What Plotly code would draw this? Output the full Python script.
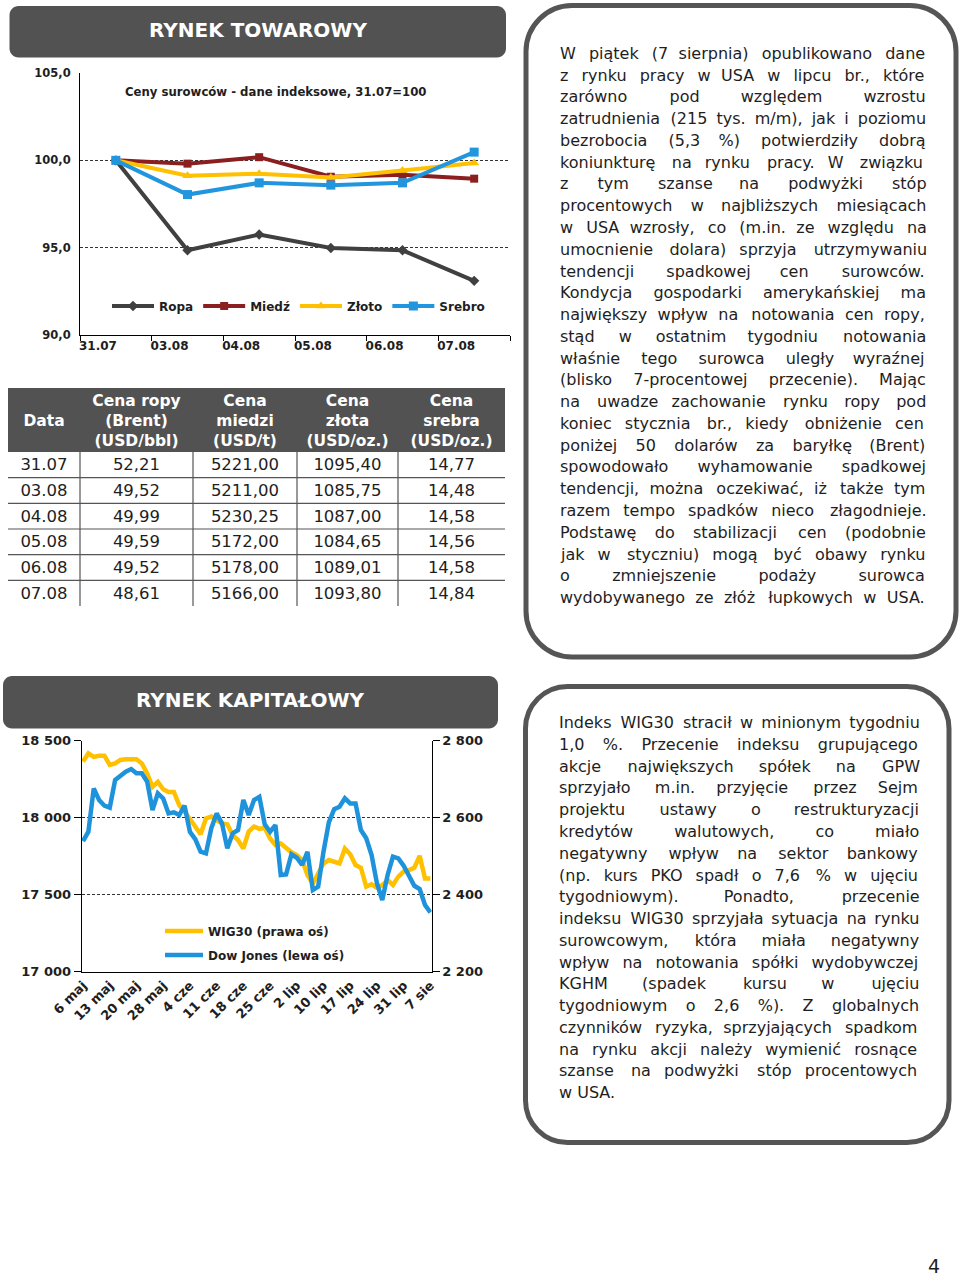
import plotly.graph_objects as go

W, H = 960, 1277
def px(x): return x / W
def py(y): return 1 - y / H

# ---------------- data: commodity chart (index, 31.07 = 100) ----------------
kat_dni = ["31.07", "03.08", "04.08", "05.08", "06.08", "07.08"]
ropa   = [100.0, 94.85, 95.75, 94.98, 94.85, 93.10]
miedz  = [100.0, 99.81, 100.18, 99.06, 99.18, 98.95]
zloto  = [100.0, 99.12, 99.23, 99.02, 99.42, 99.85]
srebro = [100.0, 98.04, 98.71, 98.58, 98.71, 100.47]

# ---------------- data: table ----------------
tab_naglowki = ["Data", "Cena ropy<br>(Brent)<br>(USD/bbl)", "Cena<br>miedzi<br>(USD/t)",
                "Cena<br>złota<br>(USD/oz.)", "Cena<br>srebra<br>(USD/oz.)"]
tab_daty    = ["31.07", "03.08", "04.08", "05.08", "06.08", "07.08"]
cena_ropy   = ["52,21", "49,52", "49,99", "49,59", "49,52", "48,61"]
cena_miedzi = ["5221,00", "5211,00", "5230,25", "5172,00", "5178,00", "5166,00"]
cena_zlota  = ["1095,40", "1085,75", "1087,00", "1084,65", "1089,01", "1093,80"]
cena_srebra = ["14,77", "14,48", "14,58", "14,56", "14,58", "14,84"]

# ---------------- data: equity chart ----------------
daty = ["06.05","07.05","08.05","11.05","12.05","13.05","14.05","15.05","18.05","19.05",
        "20.05","21.05","22.05","26.05","27.05","28.05","29.05","01.06","02.06","03.06",
        "04.06","05.06","08.06","09.06","10.06","11.06","12.06","15.06","16.06","17.06",
        "18.06","19.06","22.06","23.06","24.06","25.06","26.06","29.06","30.06","01.07",
        "02.07","06.07","07.07","08.07","09.07","10.07","13.07","14.07","15.07","16.07",
        "17.07","20.07","21.07","22.07","23.07","24.07","27.07","28.07","29.07","30.07",
        "31.07","03.08","04.08","05.08","06.08","07.08"]
dow_jones = [17848,17909,18190,18115,18078,18065,18245,18273,18299,18316,
             18288,18288,18234,18050,18158,18125,18028,18035,18017,18078,
             17909,17861,17779,17768,17931,18028,17963,17801,17898,17920,
             18115,18017,18115,18136,17957,17909,17952,17628,17632,17762,
             17740,17693,17779,17530,17552,17779,17970,18056,18071,18126,
             18093,18093,17920,17866,17758,17574,17465,17628,17747,17736,
             17688,17623,17558,17537,17433,17385]
wig30 = [2746,2767,2758,2761,2761,2737,2741,2750,2752,2752,
         2752,2741,2715,2680,2693,2674,2667,2667,2633,2616,
         2594,2577,2557,2598,2603,2594,2585,2583,2555,2542,
         2520,2564,2577,2571,2574,2546,2529,2533,2520,2510,
         2503,2490,2451,2429,2455,2481,2490,2484,2481,2520,
         2505,2477,2470,2421,2427,2418,2425,2438,2425,2447,
         2460,2464,2470,2501,2442,2442]
tick_daty = ["06.05","13.05","20.05","28.05","04.06","11.06","18.06","25.06",
             "02.07","10.07","17.07","24.07","31.07","07.08"]
tick_etykiety = ["6 maj","13 maj","20 maj","28 maj","4 cze","11 cze","18 cze","25 cze",
                 "2 lip","10 lip","17 lip","24 lip","31 lip","7 sie"]

# ---------------- texts ----------------
tekst1 = [
    "W piątek (7 sierpnia) opublikowano dane",
    "z rynku pracy w USA w lipcu br., które",
    "zarówno pod względem wzrostu",
    "zatrudnienia (215 tys. m/m), jak i poziomu",
    "bezrobocia (5,3 %) potwierdziły dobrą",
    "koniunkturę na rynku pracy. W związku",
    "z tym szanse na podwyżki stóp",
    "procentowych w najbliższych miesiącach",
    "w USA wzrosły, co (m.in. ze względu na",
    "umocnienie dolara) sprzyja utrzymywaniu",
    "tendencji spadkowej cen surowców.",
    "Kondycja gospodarki amerykańskiej ma",
    "największy wpływ na notowania cen ropy,",
    "stąd w ostatnim tygodniu notowania",
    "właśnie tego surowca uległy wyraźnej",
    "(blisko 7-procentowej przecenie). Mając",
    "na uwadze zachowanie rynku ropy pod",
    "koniec stycznia br., kiedy obniżenie cen",
    "poniżej 50 dolarów za baryłkę (Brent)",
    "spowodowało wyhamowanie spadkowej",
    "tendencji, można oczekiwać, iż także tym",
    "razem tempo spadków nieco złagodnieje.",
    "Podstawę do stabilizacji cen (podobnie",
    "jak w styczniu) mogą być obawy rynku",
    "o zmniejszenie podaży surowca",
    "wydobywanego ze złóż łupkowych w USA.",
]
tekst2 = [
    "Indeks WIG30 stracił w minionym tygodniu",
    "1,0 %. Przecenie indeksu grupującego",
    "akcje największych spółek na GPW",
    "sprzyjało m.in. przyjęcie przez Sejm",
    "projektu ustawy o restrukturyzacji",
    "kredytów walutowych, co miało",
    "negatywny wpływ na sektor bankowy",
    "(np. kurs PKO spadł o 7,6 % w ujęciu",
    "tygodniowym). Ponadto, przecenie",
    "indeksu WIG30 sprzyjała sytuacja na rynku",
    "surowcowym, która miała negatywny",
    "wpływ na notowania spółki wydobywczej",
    "KGHM (spadek kursu w ujęciu",
    "tygodniowym o 2,6 %). Z globalnych",
    "czynników ryzyka, sprzyjających spadkom",
    "na rynku akcji należy wymienić rosnące",
    "szanse na podwyżki stóp procentowych",
    "w USA.",
]

# ---------------- helpers ----------------
FONT = "DejaVu Sans"
DV = {' ':651,'!':821,'(':799,')':799,',':651,'-':739,'.':651,'/':690,'%':1946,':':690,
      'A':1401,'B':1405,'C':1430,'D':1577,'E':1294,'F':1178,'G':1587,'H':1540,'I':604,'J':604,
      'K':1343,'L':1141,'M':1767,'N':1532,'O':1612,'P':1235,'R':1423,'S':1300,'T':1251,'U':1499,
      'W':2025,'Z':1403,'a':1255,'b':1300,'c':1126,'d':1300,'e':1260,'f':721,'g':1300,'h':1298,
      'i':569,'j':569,'k':1186,'l':569,'m':1995,'n':1298,'o':1253,'p':1300,'q':1300,'r':842,
      's':1067,'t':803,'u':1298,'v':1212,'w':1675,'x':1212,'y':1212,'z':1075,'ą':1255,'ć':1126,
      'ę':1260,'ł':600,'ń':1298,'ó':1253,'ś':1067,'ź':1075,'ż':1075}
for d in "0123456789":
    DV[d] = 1303

def text_em(s):
    return sum(DV.get(ch, 1200) for ch in s) / 2048.0

SPACES = [(1.0, '\u2003'), (0.5, '\u2002'), (1/3, '\u2004'), (0.25, '\u2005'),
          (0.2, '\u2009'), (1/6, '\u2006')]

def justify(line, width_px, size):
    words = line.split(' ')
    if len(words) < 2:
        return line
    target = width_px / size
    natural = sum(text_em(w) for w in words)
    gap = max((target - natural) / (len(words) - 1), 651 / 2048)
    out, cum_t, cum_a = words[0], 0.0, 0.0
    for w in words[1:]:
        cum_t += gap
        need = cum_t - cum_a
        s, got = '\u00a0', 651 / 2048
        while need - got > 0.085:
            rem = need - got
            for val, ch in SPACES:
                if val <= rem + 0.085:
                    s += ch
                    got += val
                    break
            else:
                break
        cum_a += got
        out += s + w
    return out

def rrect(x0, y0, x1, y1, r):
    k = 0.5523 * r
    def P(x, y): return f"{px(x):.5f},{py(y):.5f}"
    d = (f"M {P(x0+r, y0)} L {P(x1-r, y0)} C {P(x1-r+k, y0)} {P(x1, y0+r-k)} {P(x1, y0+r)} "
         f"L {P(x1, y1-r)} C {P(x1, y1-r+k)} {P(x1-r+k, y1)} {P(x1-r, y1)} "
         f"L {P(x0+r, y1)} C {P(x0+r-k, y1)} {P(x0, y1-r+k)} {P(x0, y1-r)} "
         f"L {P(x0, y0+r)} C {P(x0, y0+r-k)} {P(x0+r-k, y0)} {P(x0+r, y0)} Z")
    return d

DARK = "#525252"
TXT = "#1e1e1e"

fig = go.Figure()

# ---------------- top chart traces ----------------
x_top = [i + 0.5 for i in range(len(kat_dni))]
series = [("Ropa", ropa, "#404040", "diamond", 8),
          ("Miedź", miedz, "#8B1F1F", "square", 8),
          ("Złoto", zloto, "#FFC000", "triangle-up", 9),
          ("Srebro", srebro, "#2196DE", "square", 9)]
for name, vals, col, sym, ms in series:
    fig.add_trace(go.Scatter(x=x_top, y=vals, name=name, mode="lines+markers",
                             line=dict(color=col, width=4),
                             marker=dict(symbol=sym, size=ms, color=col),
                             xaxis="x", yaxis="y", legend="legend", hoverinfo="skip"))

# ---------------- bottom chart traces ----------------
fig.add_trace(go.Scatter(x=daty, y=wig30, name="WIG30 (prawa oś)", mode="lines",
                         line=dict(color="#FFC000", width=4.5),
                         xaxis="x2", yaxis="y2", legend="legend2", legendgroup="a"))
fig.add_trace(go.Scatter(x=daty, y=dow_jones, name="Dow Jones (lewa oś)", mode="lines",
                         line=dict(color="#1E93DC", width=4.5),
                         xaxis="x2", yaxis="y3", legend="legend2", legendgroup="b"))

# ---------------- table (text traces on a hidden subplot) ----------------
col_w = [72, 113, 104, 101, 107]
edges = [0]
for w in col_w:
    edges.append(edges[-1] + w)
centers = [(edges[i] + edges[i+1]) / 2 for i in range(len(col_w))]
HEAD_H = 64
ROW_H = (218 - HEAD_H) / len(tab_daty)
kolumny = [tab_daty, cena_ropy, cena_miedzi, cena_zlota, cena_srebra]
tx, ty, tt = [], [], []
for c, col in enumerate(kolumny):
    for r, v in enumerate(col):
        tx.append(centers[c]); ty.append(HEAD_H + ROW_H * (r + 0.5) + 1.5); tt.append(v)
fig.add_trace(go.Scatter(x=tx, y=ty, text=tt, mode="text", textposition="middle center",
                         textfont=dict(family=FONT, size=16.5, color=TXT),
                         xaxis="x3", yaxis="y4", showlegend=False, hoverinfo="skip"))
fig.add_trace(go.Scatter(x=centers, y=[HEAD_H / 2 + 2] * 5, text=tab_naglowki, mode="text",
                         textposition="middle center",
                         textfont=dict(family=FONT, size=15.5, color="white", weight="bold"),
                         xaxis="x3", yaxis="y4", showlegend=False, hoverinfo="skip"))

shapes = []
shapes.append(dict(type="rect", xref="x3", yref="y4", x0=0, x1=edges[-1], y0=0, y1=HEAD_H,
                   fillcolor=DARK, line=dict(width=0), layer="below"))
for k in range(1, len(tab_daty)):
    yy = HEAD_H + ROW_H * k
    shapes.append(dict(type="line", xref="x3", yref="y4", x0=0, x1=edges[-1], y0=yy, y1=yy,
                       line=dict(color="#555555", width=1.2)))
for e in edges[1:-1]:
    shapes.append(dict(type="line", xref="x3", yref="y4", x0=e, x1=e, y0=HEAD_H, y1=218,
                       line=dict(color="#555555", width=1.2)))

# section headers
shapes.append(dict(type="path", xref="paper", yref="paper", path=rrect(9.5, 6, 506, 57.5, 9),
                   fillcolor=DARK, line=dict(width=0)))
shapes.append(dict(type="path", xref="paper", yref="paper", path=rrect(3, 676, 498, 728.5, 9),
                   fillcolor=DARK, line=dict(width=0)))
# text boxes
shapes.append(dict(type="path", xref="paper", yref="paper", path=rrect(526, 5.5, 956, 657, 46),
                   fillcolor="white", line=dict(color="#555555", width=5)))
shapes.append(dict(type="path", xref="paper", yref="paper", path=rrect(525.5, 686.5, 949, 1142.5, 42),
                   fillcolor="white", line=dict(color="#555555", width=5)))

annotations = []
def ann(text, x, y, font, xanchor="center"):
    annotations.append(dict(text=text, x=px(x), y=py(y), xref="paper", yref="paper",
                            xanchor=xanchor, yanchor="middle", showarrow=False, font=font))

ann("RYNEK TOWAROWY", 258, 30, dict(family=FONT, size=20, color="white", weight="bold"))
ann("RYNEK KAPITAŁOWY", 250, 700, dict(family=FONT, size=20, color="white", weight="bold"))
ann("Ceny surowców - dane indeksowe, 31.07=100", 275, 92,
    dict(family=FONT, size=11.7, color=TXT, weight="bold"))
ann("4", 934, 1266, dict(family=FONT, size=19, color=TXT))

SIZE = 16
body = dict(family=FONT, size=SIZE, color=TXT)
for i, line in enumerate(tekst1):
    ann(justify(line, 366, SIZE), 558, 53.3 + i * 21.77, body, xanchor="left")
for i, line in enumerate(tekst2):
    t = line if i == len(tekst2) - 1 else justify(line, 360, SIZE)
    ann(t, 557, 722.7 + i * 21.76, body, xanchor="left")

GRID = dict(showgrid=True, gridcolor="#333333", gridwidth=1, griddash="3px,2px")
bold12 = dict(family=FONT, size=12, color=TXT, weight="bold")

fig.update_layout(
    template="none", width=W, height=H, margin=dict(l=0, r=0, t=0, b=0),
    paper_bgcolor="white", plot_bgcolor="rgba(0,0,0,0)", separators=", ",
    font=dict(family=FONT, color=TXT), hovermode=False,
    xaxis=dict(domain=[px(80), px(510)], range=[0, 6], anchor="y",
               tickmode="array", tickvals=[i + 0.25 for i in range(len(kat_dni))], ticktext=kat_dni,
               ticks="", showline=True, linecolor="black", linewidth=1, showgrid=False, zeroline=False,
               tickfont=dict(family=FONT, size=12, color=TXT, weight="bold"),
               minor=dict(ticks="outside", tick0=0, dtick=1, ticklen=5, tickcolor="black", showgrid=False)),
    yaxis=dict(domain=[py(335), py(73)], range=[90, 105], dtick=5, tickformat=".1f", anchor="x",
               showline=True, linecolor="black", linewidth=1, ticks="", zeroline=False,
               ticklabelstandoff=6, tickfont=dict(family=FONT, size=11.5, color=TXT, weight="bold"), **GRID),
    xaxis2=dict(domain=[px(81.7), px(431.7)], type="category", categoryorder="array", categoryarray=daty,
                range=[-0.25, len(daty) - 0.75], anchor="y2", tickmode="array", tickvals=tick_daty,
                ticktext=tick_etykiety, tickangle=-45, ticks="", showline=True, linecolor="black",
                linewidth=1, showgrid=False, zeroline=False,
                tickfont=dict(family=FONT, size=13, color=TXT, weight="bold")),
    yaxis2=dict(domain=[py(971.7), py(740.7)], range=[2200, 2800], dtick=200, tickformat=",.0f",
                side="right", anchor="x2", ticks="outside", ticklen=7, tickcolor="black",
                showline=True, linecolor="black", linewidth=1, zeroline=False,
                tickfont=dict(family=FONT, size=13, color=TXT, weight="bold"), **GRID),
    yaxis3=dict(range=[17000, 18500], dtick=500, tickformat=",.0f", overlaying="y2", side="left",
                anchor="x2", ticks="outside", ticklen=7, tickcolor="black", showline=True,
                linecolor="black", linewidth=1, zeroline=False, showgrid=False,
                tickfont=dict(family=FONT, size=13, color=TXT, weight="bold")),
    xaxis3=dict(domain=[px(8), px(505)], range=[0, edges[-1]], visible=False, anchor="y4"),
    yaxis4=dict(domain=[py(606), py(388)], range=[218, 0], visible=False, anchor="x3"),
    legend=dict(orientation="h", x=px(107), y=py(306), xanchor="left", yanchor="middle",
                bgcolor="rgba(0,0,0,0)", font=bold12, itemwidth=42, traceorder="normal"),
    legend2=dict(orientation="v", x=px(160), y=py(943), xanchor="left", yanchor="middle",
                 bgcolor="rgba(0,0,0,0)", font=bold12, itemwidth=38, tracegroupgap=5,
                 traceorder="grouped"),
    shapes=shapes, annotations=annotations,
)

fig.write_html("out.html", config={"displayModeBar": False},
               post_script="document.body.style.margin='0';document.body.style.overflow='hidden';")
